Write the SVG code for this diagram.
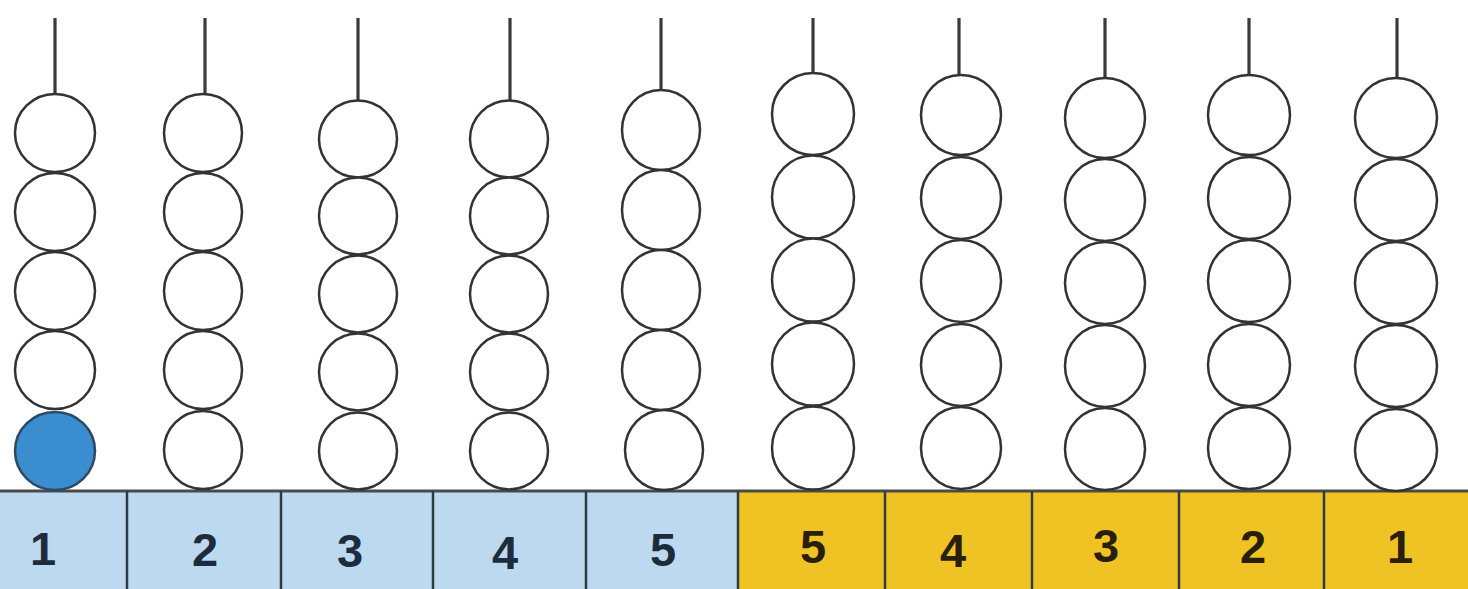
<svg xmlns="http://www.w3.org/2000/svg" width="1468" height="589" viewBox="0 0 1468 589">
<style>
.rod{stroke:#3a3a3a;stroke-width:3.2;fill:none}
.bead{fill:#ffffff;stroke:#333333;stroke-width:2.5}
.bead.on{fill:#3a8ecf;stroke:#2b4a66}
.cb{fill:#bcd9ef}
.cy{fill:#efc323}
.div{stroke:#2e3a44;stroke-width:2.5}
.lbl{font-family:"Liberation Sans",Arial,sans-serif;font-weight:bold;font-size:47px;text-anchor:middle}
.lb{fill:#1c2c3c}
.ly{fill:#2a1f0c}
</style>
<rect width="1468" height="589" fill="#ffffff"/>
<g id="base">
<rect class="cb" x="0" y="490" width="738" height="99"/>
<rect class="cy" x="738" y="490" width="730" height="99"/>
<line x1="0" y1="491" x2="1468" y2="491" stroke="#4a4a4a" stroke-width="3"/>
<line class="div" x1="127" y1="491" x2="127" y2="589"/>
<line class="div" x1="281" y1="491" x2="281" y2="589"/>
<line class="div" x1="433" y1="491" x2="433" y2="589"/>
<line class="div" x1="586" y1="491" x2="586" y2="589"/>
<line class="div" x1="738" y1="491" x2="738" y2="589"/>
<line class="div" x1="885" y1="491" x2="885" y2="589" stroke="#3a2e10"/>
<line class="div" x1="1032" y1="491" x2="1032" y2="589" stroke="#3a2e10"/>
<line class="div" x1="1179" y1="491" x2="1179" y2="589" stroke="#3a2e10"/>
<line class="div" x1="1324" y1="491" x2="1324" y2="589" stroke="#3a2e10"/>
</g>
<g id="labels">
<text class="lbl lb" x="43" y="565">1</text>
<text class="lbl lb" x="205" y="566">2</text>
<text class="lbl lb" x="350" y="567">3</text>
<text class="lbl lb" x="505" y="569">4</text>
<text class="lbl lb" x="663" y="566">5</text>
<text class="lbl ly" x="813" y="563">5</text>
<text class="lbl ly" x="953" y="567">4</text>
<text class="lbl ly" x="1106" y="562">3</text>
<text class="lbl ly" x="1253" y="563">2</text>
<text class="lbl ly" x="1400" y="563">1</text>
</g>
<g id="col1">
<line class="rod" x1="55" y1="18" x2="55" y2="94"/>
<ellipse class="bead" cx="55" cy="133" rx="40" ry="39"/>
<ellipse class="bead" cx="55" cy="212" rx="40" ry="39"/>
<ellipse class="bead" cx="55" cy="291" rx="40" ry="39"/>
<ellipse class="bead" cx="55" cy="370" rx="40" ry="39"/>
<ellipse class="bead on" cx="55" cy="451" rx="40" ry="39"/>
</g>
<g id="col2">
<line class="rod" x1="205" y1="18" x2="205" y2="94"/>
<ellipse class="bead" cx="203" cy="133" rx="39" ry="39"/>
<ellipse class="bead" cx="203" cy="212" rx="39" ry="39"/>
<ellipse class="bead" cx="203" cy="291" rx="39" ry="39"/>
<ellipse class="bead" cx="203" cy="370" rx="39" ry="39"/>
<ellipse class="bead" cx="203" cy="450" rx="39" ry="39"/>
</g>
<g id="col3">
<line class="rod" x1="358" y1="18" x2="358" y2="100"/>
<ellipse class="bead" cx="358" cy="139" rx="39" ry="38.5"/>
<ellipse class="bead" cx="358" cy="216" rx="39" ry="38.5"/>
<ellipse class="bead" cx="358" cy="294" rx="39" ry="38.5"/>
<ellipse class="bead" cx="358" cy="372" rx="39" ry="38.5"/>
<ellipse class="bead" cx="358" cy="451" rx="39" ry="38.5"/>
</g>
<g id="col4">
<line class="rod" x1="510" y1="18" x2="510" y2="100"/>
<ellipse class="bead" cx="509" cy="139" rx="39" ry="38.5"/>
<ellipse class="bead" cx="509" cy="216" rx="39" ry="38.5"/>
<ellipse class="bead" cx="509" cy="294" rx="39" ry="38.5"/>
<ellipse class="bead" cx="509" cy="372" rx="39" ry="38.5"/>
<ellipse class="bead" cx="509" cy="451" rx="39" ry="38.5"/>
</g>
<g id="col5">
<line class="rod" x1="661" y1="18" x2="661" y2="90"/>
<ellipse class="bead" cx="661" cy="130" rx="39" ry="40"/>
<ellipse class="bead" cx="661" cy="210" rx="39" ry="40"/>
<ellipse class="bead" cx="661" cy="290" rx="39" ry="40"/>
<ellipse class="bead" cx="661" cy="370" rx="39" ry="40"/>
<ellipse class="bead" cx="664" cy="450" rx="39" ry="40"/>
</g>
<g id="col6">
<line class="rod" x1="813" y1="18" x2="813" y2="73"/>
<ellipse class="bead" cx="813" cy="114" rx="41" ry="41"/>
<ellipse class="bead" cx="813" cy="197" rx="41" ry="41.5"/>
<ellipse class="bead" cx="813" cy="280" rx="41" ry="41.5"/>
<ellipse class="bead" cx="813" cy="364" rx="41" ry="41.5"/>
<ellipse class="bead" cx="813" cy="448" rx="41" ry="41.5"/>
</g>
<g id="col7">
<line class="rod" x1="959" y1="18" x2="959" y2="75"/>
<ellipse class="bead" cx="961" cy="115" rx="40" ry="40"/>
<ellipse class="bead" cx="961" cy="198" rx="40" ry="41"/>
<ellipse class="bead" cx="961" cy="281" rx="40" ry="41"/>
<ellipse class="bead" cx="961" cy="365" rx="40" ry="41"/>
<ellipse class="bead" cx="961" cy="448" rx="40" ry="41"/>
</g>
<g id="col8">
<line class="rod" x1="1105" y1="18" x2="1105" y2="78"/>
<ellipse class="bead" cx="1105" cy="118" rx="40" ry="40"/>
<ellipse class="bead" cx="1105" cy="200" rx="40" ry="41"/>
<ellipse class="bead" cx="1105" cy="283" rx="40" ry="41"/>
<ellipse class="bead" cx="1105" cy="366" rx="40" ry="41"/>
<ellipse class="bead" cx="1105" cy="449" rx="40" ry="41"/>
</g>
<g id="col9">
<line class="rod" x1="1249" y1="18" x2="1249" y2="74"/>
<ellipse class="bead" cx="1249" cy="115" rx="41" ry="40"/>
<ellipse class="bead" cx="1249" cy="198" rx="41" ry="41"/>
<ellipse class="bead" cx="1249" cy="281" rx="41" ry="41"/>
<ellipse class="bead" cx="1249" cy="365" rx="41" ry="41"/>
<ellipse class="bead" cx="1249" cy="448" rx="41" ry="41"/>
</g>
<g id="col10">
<line class="rod" x1="1397" y1="18" x2="1397" y2="78"/>
<ellipse class="bead" cx="1396" cy="118" rx="41" ry="40"/>
<ellipse class="bead" cx="1396" cy="200" rx="41" ry="41"/>
<ellipse class="bead" cx="1396" cy="283" rx="41" ry="41"/>
<ellipse class="bead" cx="1396" cy="366" rx="41" ry="41"/>
<ellipse class="bead" cx="1396" cy="450" rx="41" ry="41"/>
</g>
</svg>
